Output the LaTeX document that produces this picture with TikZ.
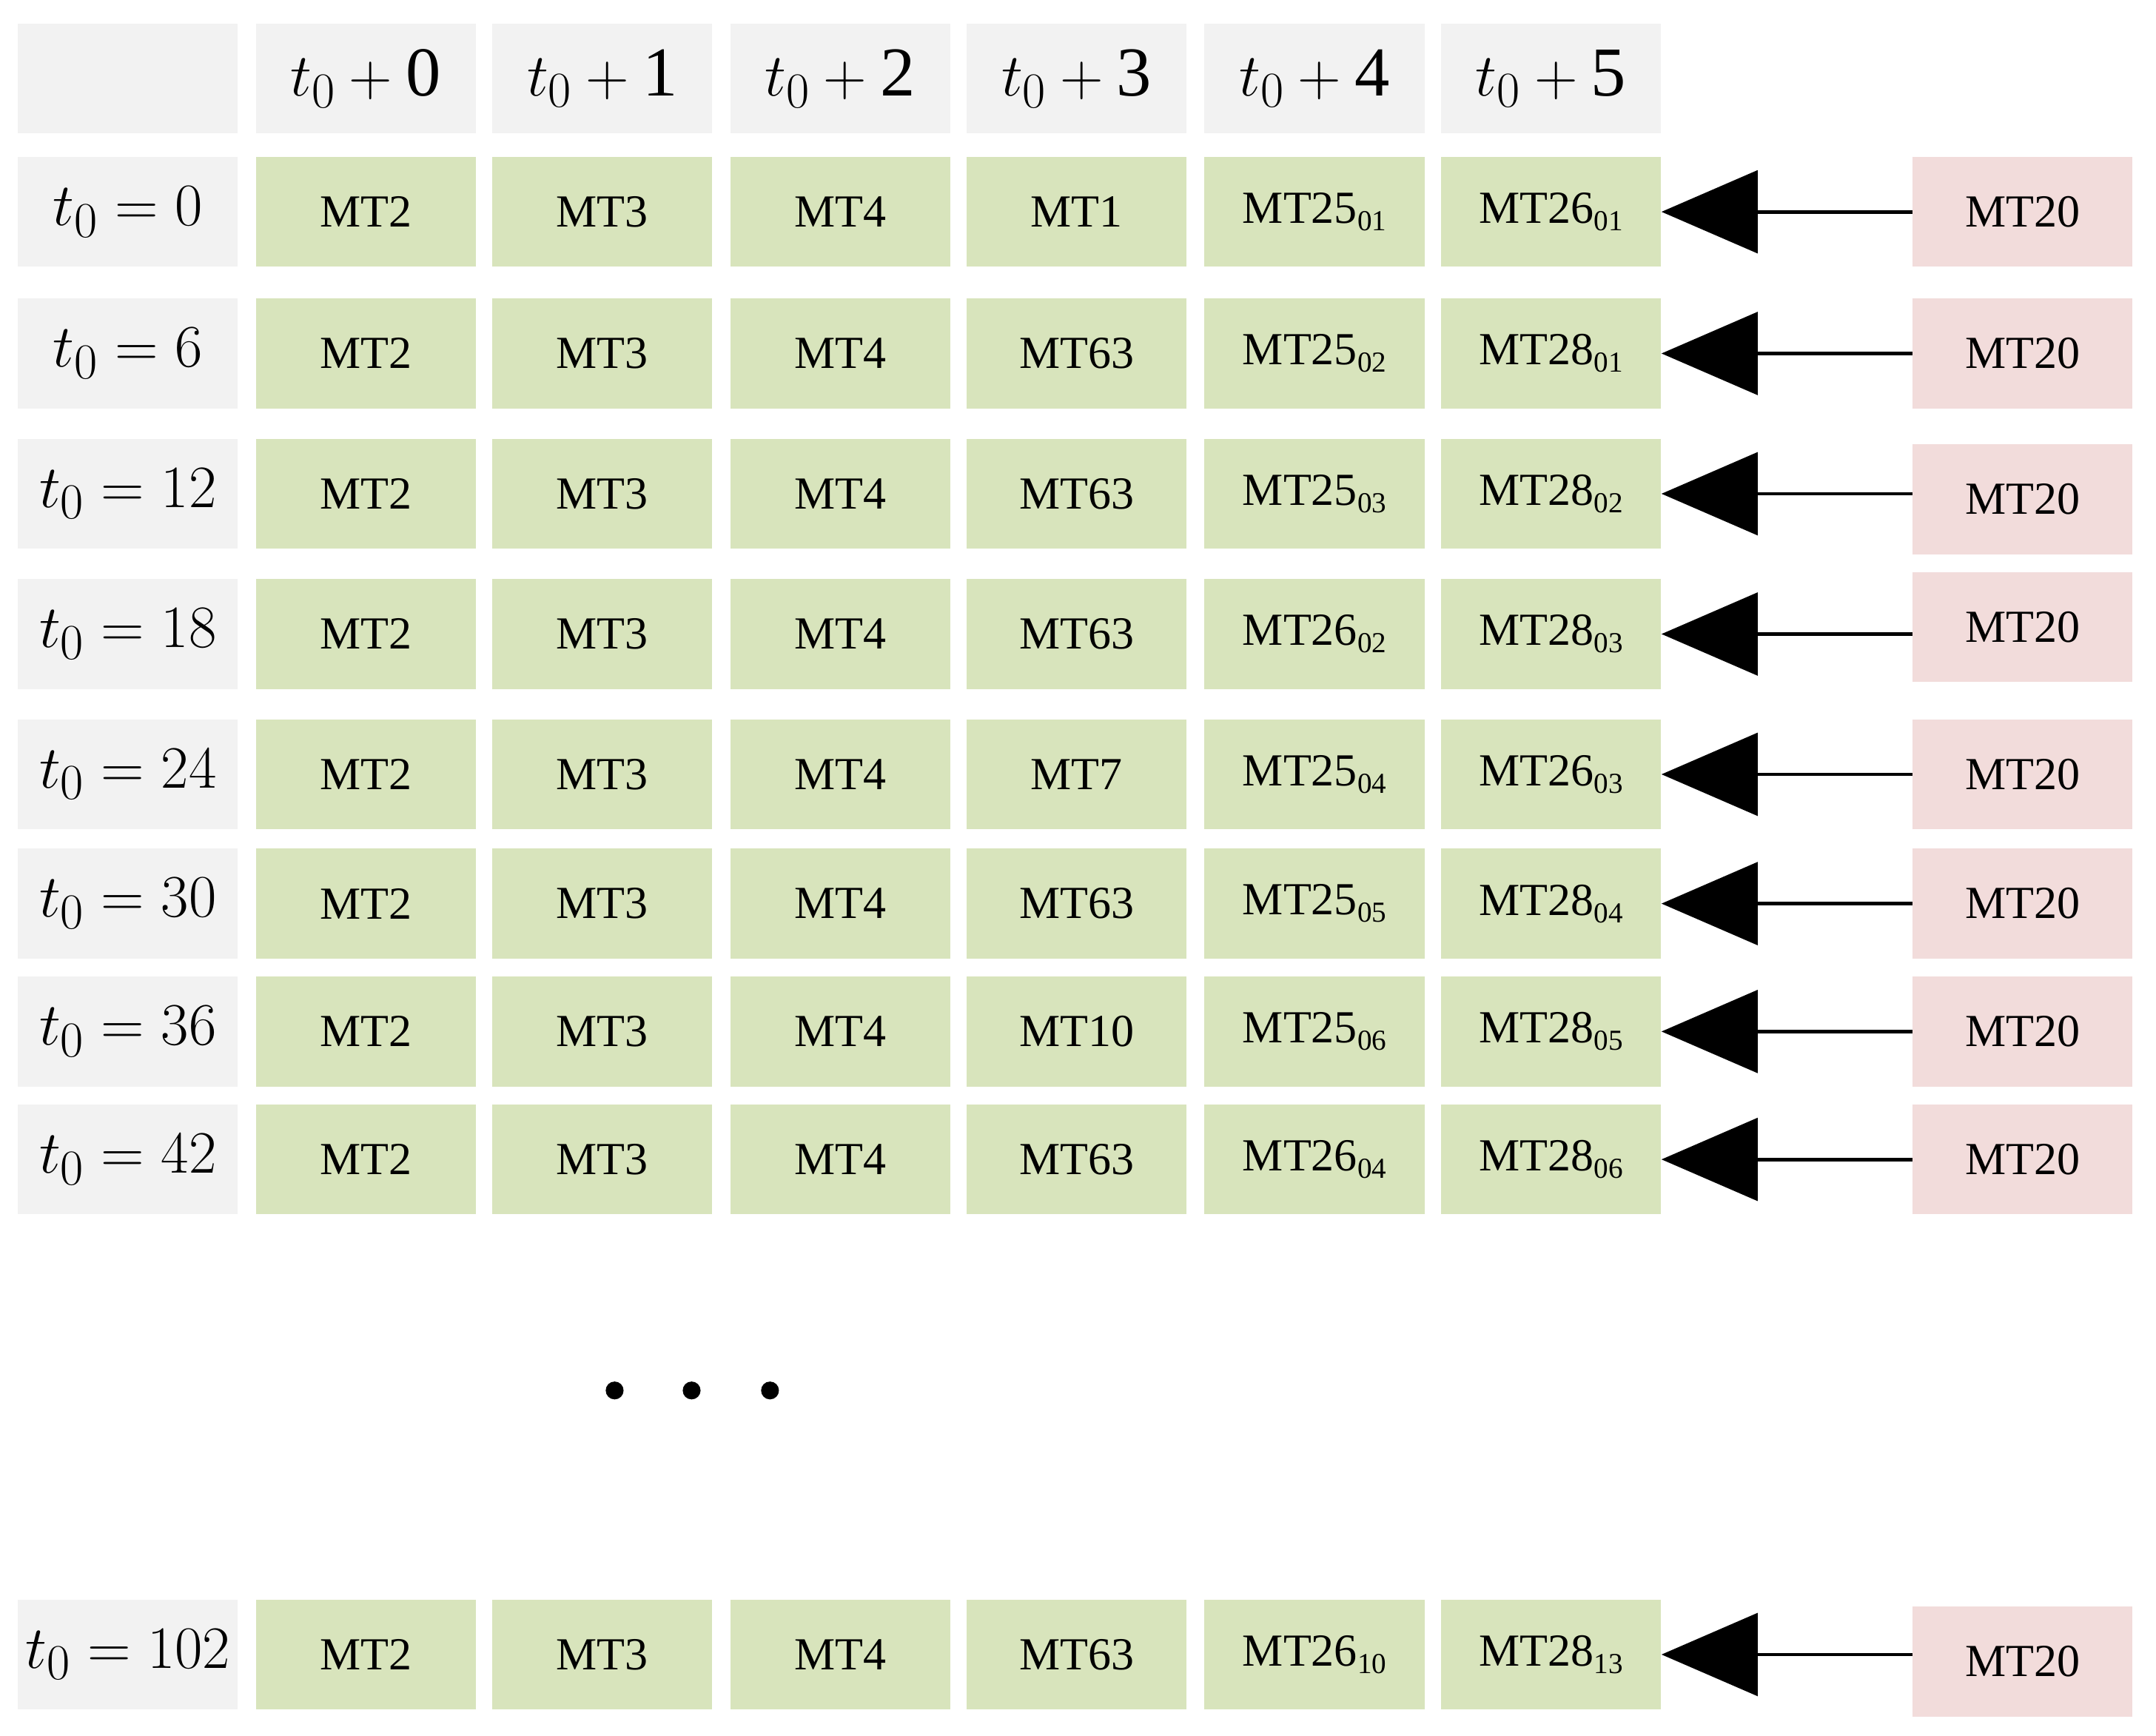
\documentclass[tikz,border=0pt]{standalone}
\usepackage{fontspec}
\setmainfont{Liberation Serif}
\usetikzlibrary{arrows.meta}
\newcommand{\sbs}[1]{\raisebox{-0.35ex}{\fontsize{12}{12}\selectfont #1}}
\begin{document}
\begin{tikzpicture}[x=0.02cm,y=-0.02cm,
 cell/.style={minimum width=3.2cm,minimum height=1.6cm,inner sep=0pt,font=\fontsize{19}{19}\selectfont},
 hd/.style={cell,font=\fontsize{29}{29}\selectfont},
 mt/.style={cell},
 pk/.style={cell},
 arr/.style={line width=1.5pt,-{Triangle[length=1.4cm,width=1.2cm]}}]
\useasboundingbox (0,0) rectangle (1568,1262);
\definecolor{g}{HTML}{D8E4BC}\definecolor{p}{HTML}{F2DCDB}\definecolor{h}{HTML}{F2F2F2}
\tikzset{mt/.append style={fill=g},pk/.append style={fill=p},hd/.append style={fill=h}}
\def\xs{{93,266,438,611,783,956,1128}}
\node[hd] (h0) at (93,57) {};
\foreach \i/\t in {1/0,2/1,3/2,4/3,5/4,6/5}{
 \pgfmathsetmacro\xx{\xs[\i]}
 \node[hd] (h\i) at (\xx,57) {$t_0+\mathrm{\t}$};}
\foreach \r/\y/\lab/\a/\b/\c/\py in {
 1/154/0/MT1/MT25\sbs{01}/MT26\sbs{01}/154,
 2/257/6/MT63/MT25\sbs{02}/MT28\sbs{01}/257,
 3/359/12/MT63/MT25\sbs{03}/MT28\sbs{02}/363,
 4/461/18/MT63/MT26\sbs{02}/MT28\sbs{03}/456,
 5/563/24/MT7/MT25\sbs{04}/MT26\sbs{03}/563,
 6/657/30/MT63/MT25\sbs{05}/MT28\sbs{04}/657,
 7/750/36/MT10/MT25\sbs{06}/MT28\sbs{05}/750,
 8/843/42/MT63/MT26\sbs{04}/MT28\sbs{06}/843,
 9/1203/102/MT63/MT26\sbs{10}/MT28\sbs{13}/1208}{
 \node[hd] (l\r) at (93,\y) {$t_0=\lab$};
 \node[mt] (c\r1) at (266,\y) {MT2};
 \node[mt] (c\r2) at (438,\y) {MT3};
 \node[mt] (c\r3) at (611,\y) {MT4};
 \node[mt] (c\r4) at (783,\y) {\a};
 \node[mt] (c\r5) at (956,\y) {\b};
 \node[mt] (c\r6) at (1128,\y) {\c};
 \node[pk] (p\r) at (1471,\py) {MT20};
 \draw[arr] (p\r.west |- c\r6.east) -- (c\r6.east);
}
\foreach \x in {447,503,560}{\fill (\x,1011) circle (6.5);}
\end{tikzpicture}
\end{document}
